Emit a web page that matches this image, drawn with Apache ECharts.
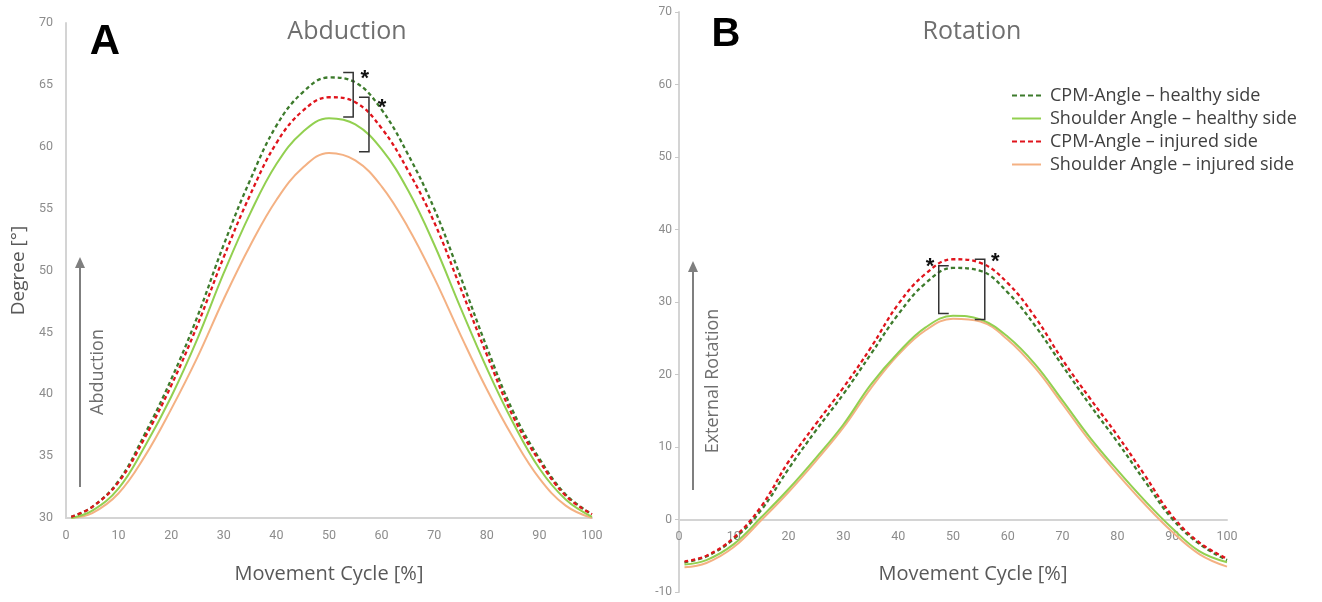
<!DOCTYPE html>
<html><head><meta charset="utf-8">
<script src="https://cdn.jsdelivr.net/npm/echarts@6/dist/echarts.min.js"></script>
<style>html,body{margin:0;padding:0;background:#fff}#c{width:1322px;height:602px}</style>
</head><body><div id="c"></div>
<script>
// Movement cycle sample positions [%]
const cycle = [1,5,10,15,20,25,30,35,40,45,50,55,60,65,70,75,80,85,90,95,100];

// Panel A – Abduction [°]
const abdCpmHealthy      = [30.1,30.9,33.0,36.8,41.2,46.3,52.1,57.3,61.7,64.4,65.6,65.2,63.0,59.4,55.0,49.5,43.8,38.6,34.8,31.9,30.3];
const abdShoulderHealthy = [30.0,30.6,32.4,35.8,39.8,44.5,49.8,54.6,58.6,61.2,62.3,61.8,59.8,56.5,52.1,47.0,42.1,37.7,34.0,31.5,30.1];
const abdCpmInjured      = [30.1,30.9,32.9,36.5,40.7,45.6,51.1,56.1,60.3,62.9,64.0,63.6,61.5,58.1,53.9,48.6,43.2,38.2,34.6,31.8,30.3];
const abdShoulderInjured = [30.0,30.4,32.0,35.0,38.8,43.0,47.7,52.0,55.7,58.3,59.5,58.9,56.8,53.5,49.4,44.8,40.4,36.5,33.2,31.0,30.0];

// Panel B – Rotation [°]
const rotCpmHealthy      = [-5.9,-5.1,-2.7,1.3,7.0,12.3,17.3,22.8,28.3,32.6,34.7,34.3,31.3,26.7,21.2,15.8,10.7,5.3,0.1,-3.4,-5.6];
const rotShoulderHealthy = [-6.2,-5.6,-3.4,0.3,4.2,8.5,13.1,18.6,23.0,26.5,28.1,27.6,25.2,21.4,16.4,11.3,6.8,2.6,-1.2,-4.4,-5.9];
const rotCpmInjured      = [-5.8,-5.0,-2.5,1.8,8.0,13.2,18.2,23.7,29.7,33.9,35.9,35.4,32.6,27.9,22.0,16.7,11.6,6.1,0.5,-3.2,-5.4];
const rotShoulderInjured = [-6.6,-6.0,-3.8,-0.1,3.8,8.1,12.7,18.1,22.7,26.1,27.7,27.3,24.8,20.9,15.9,10.8,6.3,2.1,-1.7,-4.8,-6.5];

const seriesNames = ['CPM-Angle – healthy side','Shoulder Angle – healthy side','CPM-Angle – injured side','Shoulder Angle – injured side'];
const panelTitles = ['Abduction','Rotation'];
const panelLetters = ['A','B'];
const xAxisTitle = 'Movement Cycle [%]';
const yAxisTitle = 'Degree [°]';
const arrowLabels = ['Abduction','External Rotation'];

// significance brackets (data units): panel, x, yTop, yBottom, tick direction, star position
const brackets = [
  {panel:0, x:54.6, y1:66.0, y2:62.4, dir:-1, star:[56.8, 65.8]},
  {panel:0, x:57.6, y1:64.0, y2:59.6, dir:-1, star:[60.1, 63.5]},
  {panel:1, x:47.4, y1:35.0, y2:28.4, dir:1,  star:[45.8, 35.4]},
  {panel:1, x:55.8, y1:35.9, y2:27.6, dir:-1, star:[57.7, 36.1]}
];

const colors = {cpmH:'#3d7b2c', shH:'#92d050', cpmI:'#e0141c', shI:'#f4b183'};
const dash = [4,3];
const dashIcon = 'path://M0,0h5v2h-5z M8,0h5v2h-5z M16,0h5v2h-5z M24,0h5v2h-5z';
const solidIcon = 'path://M0,0h29v2h-29z';

function mk(name, idx, vals, color, dashed, z){
  return {type:'line', name, xAxisIndex:idx, yAxisIndex:idx,
    data: cycle.map((x,i)=>[x, vals[i]]), smooth:0.4, symbol:'none', z,
    lineStyle:{color, width: dashed?2.3:2, type: dashed?dash:'solid'},
    itemStyle:{color}, emphasis:{disabled:true}};
}

const chart = echarts.init(document.getElementById('c'), null, {renderer:'canvas'});
const tickFont = 'Roboto, "Liberation Sans", sans-serif';
const titleFont = '"Open Sans", Roboto, sans-serif';
const gridB = {left:679, top:12, width:548, height:580};

function xAx(idx, gap){
  return {type:'value', gridIndex:idx, min:0, max:100, interval:10,
    name: xAxisTitle, nameLocation:'middle', nameGap: gap,
    nameTextStyle:{color:'#595959', fontSize:20, fontFamily:titleFont, padding: idx===1?[0,0,0,40]:0},
    axisLine:{show:true, onZero:false, lineStyle:{color:'#d4d4d4', width:2}},
    axisTick:{show:false}, splitLine:{show:false},
    axisLabel:{color:'#8c8c8c', fontSize:12.5, fontFamily: idx===1?'"Liberation Sans Narrow", Roboto, sans-serif':tickFont, margin:11}};
}

const option = {
  animation:false,
  backgroundColor:'#fff',
  grid:[
    {left:66, top:23, width:526, height:495, outerBoundsMode:'none', containLabel:false},
    Object.assign({outerBoundsMode:'none', containLabel:false}, gridB)
  ],
  xAxis:[xAx(0,46), xAx(1,45)],
  yAxis:[
    {type:'value', gridIndex:0, min:30, max:70, interval:5,
     name:yAxisTitle, nameLocation:'middle', nameGap:38,
     nameTextStyle:{color:'#595959', fontSize:19, fontFamily:titleFont},
     axisLine:{show:true, lineStyle:{color:'#d4d4d4', width:2}}, axisTick:{show:false}, splitLine:{show:false},
     axisLabel:{color:'#8c8c8c', fontSize:12.5, fontFamily:tickFont, margin:13}},
    {type:'value', gridIndex:1, min:-10, max:70, interval:10,
     axisLine:{show:true, lineStyle:{color:'#d4d4d4', width:2}},
     axisTick:{show:true, length:4, lineStyle:{color:'#c8c8c8'}}, splitLine:{show:false},
     axisLabel:{color:'#8c8c8c', fontSize:12, fontFamily:'"Liberation Sans Narrow", Roboto, sans-serif', margin:7}}
  ],
  title:[
    {text:panelTitles[0], left:342, top:14, textAlign:'center', textStyle:{color:'#6f6f6f', fontSize:25, fontWeight:'normal', fontFamily:titleFont}},
    {text:panelTitles[1], left:967, top:14, textAlign:'center', textStyle:{color:'#6f6f6f', fontSize:25, fontWeight:'normal', fontFamily:titleFont}},
    {text:panelLetters[0], left:100, top:16, textAlign:'center', textStyle:{color:'#000', fontSize:42, fontWeight:'bold', fontFamily:'"Liberation Sans", Arial, sans-serif'}},
    {text:panelLetters[1], left:721, top:10, textAlign:'center', textStyle:{color:'#000', fontSize:40, fontWeight:'bold', fontFamily:'"Liberation Sans Narrow", "Liberation Sans", sans-serif'}}
  ],
  legend:{
    orient:'vertical', left:1007, top:81, itemWidth:29, itemHeight:2, itemGap:4,
    data: [
      {name:seriesNames[0], icon:dashIcon, itemStyle:{color:colors.cpmH}},
      {name:seriesNames[1], icon:solidIcon, itemStyle:{color:colors.shH}},
      {name:seriesNames[2], icon:dashIcon, itemStyle:{color:colors.cpmI}},
      {name:seriesNames[3], icon:solidIcon, itemStyle:{color:colors.shI}}
    ],
    textStyle:{color:'#404040', fontSize:18, fontFamily:titleFont, lineHeight:19, padding:[0,0,0,4]},
    selectedMode:false
  },
  series:[
    mk(seriesNames[3],0,abdShoulderInjured,colors.shI,false,2),
    mk(seriesNames[1],0,abdShoulderHealthy,colors.shH,false,3),
    mk(seriesNames[0],0,abdCpmHealthy,colors.cpmH,true,4),
    mk(seriesNames[2],0,abdCpmInjured,colors.cpmI,true,5),
    mk(seriesNames[3],1,rotShoulderInjured,colors.shI,false,2),
    mk(seriesNames[1],1,rotShoulderHealthy,colors.shH,false,3),
    mk(seriesNames[0],1,rotCpmHealthy,colors.cpmH,true,4),
    mk(seriesNames[2],1,rotCpmInjured,colors.cpmI,true,5)
  ]
};
chart.setOption(option);

// place panel B's x axis (line, labels, title) on the zero line of its y axis
const zeroY = chart.convertToPixel({yAxisIndex:1}, 0);
chart.setOption({xAxis:[{}, {offset: -((gridB.top + gridB.height) - zeroY)}]});

// decorations: arrows, arrow labels, brackets
const g = [];
function arrow(x, yBottom, yTop){
  g.push({type:'line', shape:{x1:x, y1:yBottom, x2:x, y2:yTop+8}, style:{stroke:'#7f7f7f', lineWidth:2}});
  g.push({type:'polygon', shape:{points:[[x, yTop],[x-5, yTop+11],[x+5, yTop+11]]}, style:{fill:'#7f7f7f'}});
}
arrow(80, 487, 257);
arrow(693, 490, 261);
g.push({type:'text', x:98, y:372, rotation:Math.PI/2, style:{text:arrowLabels[0], fill:'#6f6f6f', font:'18px "Open Sans", Roboto, sans-serif', align:'center', verticalAlign:'middle'}});
g.push({type:'text', x:713, y:381, rotation:Math.PI/2, style:{text:arrowLabels[1], fill:'#6f6f6f', font:'18px "Open Sans", Roboto, sans-serif', align:'center', verticalAlign:'middle'}});
brackets.forEach(b=>{
  const f = {xAxisIndex:b.panel, yAxisIndex:b.panel};
  const p1 = chart.convertToPixel(f,[b.x,b.y1]);
  const p2 = chart.convertToPixel(f,[b.x,b.y2]);
  const tick = 10*b.dir;
  g.push({type:'polyline', shape:{points:[[p1[0]+tick,p1[1]],[p1[0],p1[1]],[p2[0],p2[1]],[p2[0]+tick,p2[1]]]}, style:{stroke:'#333', lineWidth:1.5, fill:null}, z:10});
  const s = chart.convertToPixel(f, b.star);
  g.push({type:'text', x:s[0], y:s[1]+4, style:{text:'*', fill:'#111', font:'bold 22px "Liberation Sans", sans-serif', align:'center', verticalAlign:'middle'}, z:10});
});
chart.setOption({graphic:g});
</script>
</body></html>
